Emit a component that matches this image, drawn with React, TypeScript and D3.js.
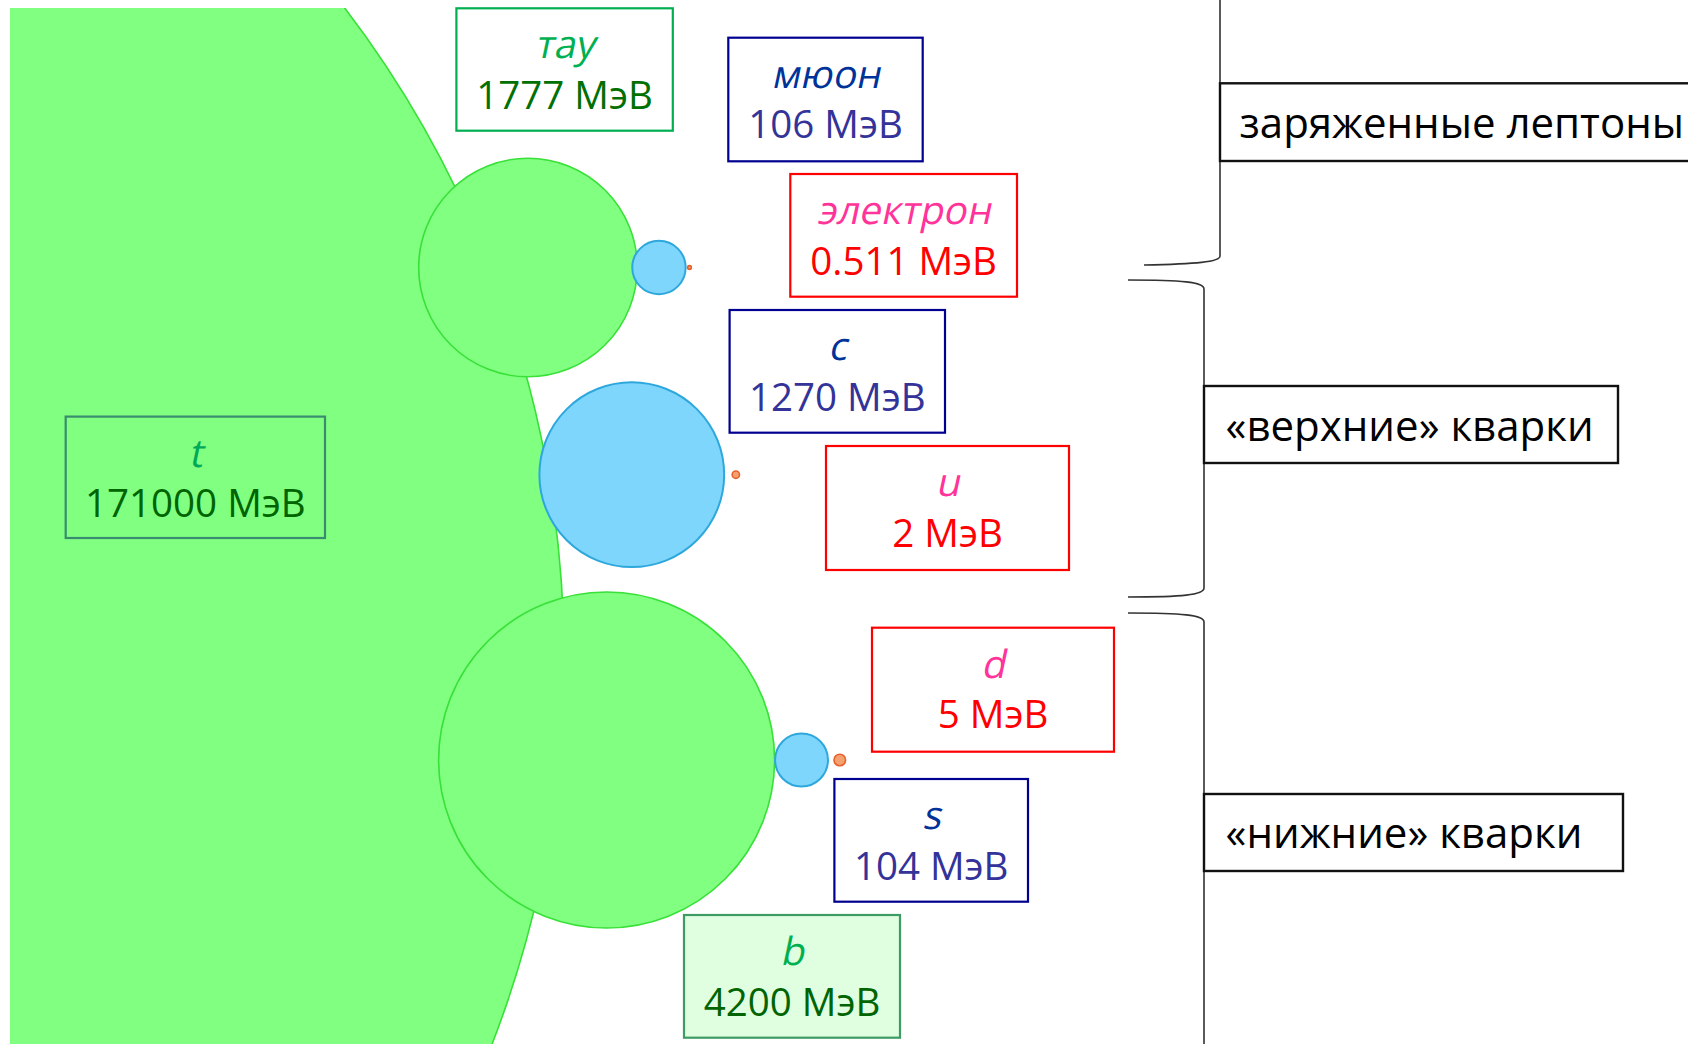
import React from "react";
import * as d3 from "d3";

// ---------- DATA ----------
const unit = "МэВ";
const leptonNames = ["тау", "мюон", "электрон"];
const leptonMasses = [1777, 106, 0.511];
const leptonValueLabels = ["1777", "106", "0.511"];

const upNames = ["t", "c", "u"];
const upMasses = [171000, 1270, 2];
const upValueLabels = ["171000", "1270", "2"];

const downNames = ["b", "s", "d"];
const downMasses = [4200, 104, 5];
const downValueLabels = ["4200", "104", "5"];

const groupLabels = ["заряженные лептоны", "«верхние» кварки", "«нижние» кварки"];

// ---------- LAYOUT (page coordinates) ----------
const W = 1688;
const H = 1044;
const FONT = "'Open Sans', 'Noto Sans', sans-serif";

// row layout: centre line y, left edge of first circle, gaps between successive circles
const leptonRow = { y: 267.5, left: 418.7, gaps: [-5, 2] };
const upRow = { y: 474.7, left: 539.4, gaps: [8] }; // c, u (t drawn separately)
const downRow = { y: 760, left: 438.6, gaps: [0.5, 6] };
const tCircle = { right: 564, y: 658 };

// label boxes [x, y, w, h]
const leptonBoxes = [
  [456.4, 8.3, 216.4, 122.4],
  [728.3, 37.7, 194.4, 123.6],
  [790.3, 174, 226.7, 122.7],
];
const upBoxes = [
  [65.7, 416.6, 259.3, 121.4],
  [729.6, 310, 215.4, 122.7],
  [826, 446, 243, 124],
];
const downBoxes = [
  [684, 915, 216, 122.7],
  [834.4, 779, 193.6, 122.7],
  [872, 627.7, 242, 124],
];

const groupBoxes = [
  [1220, 83.3, 520, 77.7],
  [1204, 386, 414, 77],
  [1204, 794, 419, 77],
];
const groupTextX = [1239.5, 1225.6, 1225.6];
const groupBaseline = [138, 440.7, 848.3];

// generation styles (index 0 = 3rd gen, 1 = 2nd, 2 = 1st)
const circleFill = ["#80FF80", "#7FD6FC", "#F4A070"];
const circleStroke = ["#38E038", "#2EA8DC", "#E8602A"];
const boxStroke = ["#00B050", "#000090", "#FF0000"];
const nameColor = ["#00B050", "#003399", "#FF3399"];
const nameWeight = [400, 500, 400];
const valueColor = ["#007000", "#333399", "#FF0000"];

const r = d3.scaleSqrt().domain([0, 171000]).range([0, 1072]);

function rowCenters(masses: number[], row: { left: number; gaps: number[] }) {
  const xs: number[] = [];
  let edge = row.left;
  masses.forEach((m, i) => {
    const rad = r(m);
    const cx = edge + rad;
    xs.push(cx);
    edge = cx + rad + (row.gaps[i] ?? 0);
  });
  return xs;
}

type Box = number[];

function LabelBox({ box, name, value, gen, special }: { box: Box; name: string; value: string; gen: number; special?: string }) {
  const [x, y, w, h] = box;
  let stroke = boxStroke[gen];
  let fill = "#FFFFFF";
  let nFill = nameColor[gen];
  let vFill = valueColor[gen];
  if (special === "t") {
    stroke = "#3A8C70";
    fill = "none";
    nFill = "#00A85A";
    vFill = "#006400";
  }
  if (special === "b") {
    stroke = "#3D9B63";
    fill = "#E0FFE0";
    vFill = "#006400";
  }
  const cx = x + w / 2;
  return (
    <g>
      <rect x={x} y={y} width={w} height={h} fill={fill} stroke={stroke} strokeWidth={2.2} />
      <text
        transform={`translate(${cx},${y + 50}) skewX(-12)`}
        textAnchor="middle"
        fontFamily={FONT}
        fontWeight={nameWeight[gen]}
        fontSize={39}
        fill={nFill}
      >
        {name}
      </text>
      <text x={cx} y={y + 100.5} textAnchor="middle" fontFamily={FONT} fontSize={38.5} fill={vFill}>
        {value + " " + unit}
      </text>
    </g>
  );
}

export default function App() {
  const leptonX = rowCenters(leptonMasses, leptonRow);
  const upX = rowCenters(upMasses.slice(1), upRow);
  const downX = rowCenters(downMasses, downRow);
  const tR = r(upMasses[0]);

  const circle = (cx: number, cy: number, m: number, gen: number, key: string) => (
    <circle key={key} cx={cx} cy={cy} r={r(m)} fill={circleFill[gen]} stroke={circleStroke[gen]} strokeWidth={gen === 1 ? 2 : 1.6} />
  );

  const bracePaths = [
    `M1220,0 V256 C1220,262 1196,264 1144,265`,
    `M1128,280 C1182,280 1204,282 1204,289 V588 C1204,595 1182,597 1128,597`,
    `M1128,613 C1182,613 1204,615 1204,622 V${H}`,
  ];

  return (
    <svg width={W} height={H} style={{ position: "absolute", left: 0, top: 0, background: "#fff" }}>
      <defs>
        <clipPath id="clipT">
          <rect x={10} y={8} width={W} height={H} />
        </clipPath>
      </defs>
      <g clipPath="url(#clipT)">
        <circle cx={tCircle.right - tR} cy={tCircle.y} r={tR} fill={circleFill[0]} stroke={circleStroke[0]} strokeWidth={1.6} />
      </g>
      {leptonMasses.map((m, i) => circle(leptonX[i], leptonRow.y, m, i, "l" + i))}
      {upMasses.slice(1).map((m, i) => circle(upX[i], upRow.y, m, i + 1, "u" + i))}
      {downMasses.map((m, i) => circle(downX[i], downRow.y, m, i, "d" + i))}

      {bracePaths.map((p, i) => (
        <path key={i} d={p} fill="none" stroke="#333" strokeWidth={1.6} />
      ))}

      {leptonNames.map((n, i) => (
        <LabelBox key={"lb" + i} box={leptonBoxes[i]} name={n} value={leptonValueLabels[i]} gen={i} />
      ))}
      {upNames.map((n, i) => (
        <LabelBox key={"ub" + i} box={upBoxes[i]} name={n} value={upValueLabels[i]} gen={i} special={i === 0 ? "t" : undefined} />
      ))}
      {downNames.map((n, i) => (
        <LabelBox key={"db" + i} box={downBoxes[i]} name={n} value={downValueLabels[i]} gen={i} special={i === 0 ? "b" : undefined} />
      ))}

      {groupLabels.map((g, i) => {
        const [x, y, w, h] = groupBoxes[i];
        return (
          <g key={"g" + i}>
            <rect x={x} y={y} width={w} height={h} fill="#fff" stroke="#111" strokeWidth={2.4} />
            <text x={groupTextX[i]} y={groupBaseline[i]} fontFamily={FONT} fontSize={42} fill="#000">
              {g}
            </text>
          </g>
        );
      })}
    </svg>
  );
}
